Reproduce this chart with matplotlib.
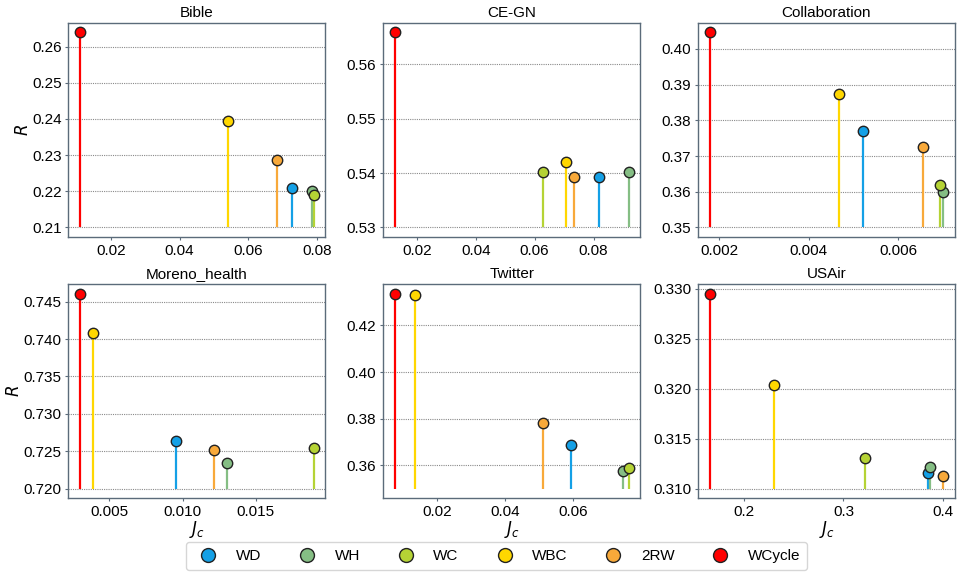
import matplotlib
matplotlib.use("Agg")
import matplotlib.pyplot as plt
from matplotlib.lines import Line2D

plt.rcParams['font.family'] = ['Liberation Sans', 'DejaVu Sans']

methods = ["WD", "WH", "WC", "WBC", "2RW", "WCycle"]
colors = ["#14A0E6", "#85BE84", "#B5D335", "#FFD700", "#F8A93A", "#FF0000"]

titles = ["Bible", "CE-GN", "Collaboration", "Moreno_health", "Twitter", "USAir"]
baselines = [0.21, 0.53, 0.35, 0.72, 0.35, 0.31]

# Jc values per network, order: WD, WH, WC, WBC, 2RW, WCycle
jc_bible = [0.0728, 0.0784, 0.0790, 0.0540, 0.0682, 0.0111]
jc_cegn = [0.0820, 0.0919, 0.0629, 0.0705, 0.0732, 0.0125]
jc_collab = [0.00522, 0.00700, 0.00693, 0.00468, 0.00655, 0.00179]
jc_moreno = [0.00955, 0.01300, 0.01895, 0.00390, 0.01215, 0.00300]
jc_twitter = [0.0594, 0.0746, 0.0762, 0.0135, 0.0510, 0.0075]
jc_usair = [0.3845, 0.3864, 0.3218, 0.2300, 0.4000, 0.1660]

# R values per network
r_bible = [0.2209, 0.2201, 0.2190, 0.2394, 0.2286, 0.2639]
r_cegn = [0.5393, 0.5402, 0.5403, 0.5421, 0.5392, 0.5659]
r_collab = [0.3771, 0.3599, 0.3619, 0.3873, 0.3724, 0.4046]
r_moreno = [0.7264, 0.7234, 0.7254, 0.7408, 0.7251, 0.7461]
r_twitter = [0.3689, 0.3574, 0.3590, 0.4332, 0.3780, 0.4337]
r_usair = [0.3116, 0.3122, 0.3131, 0.3204, 0.3113, 0.3295]

jc_all = [jc_bible, jc_cegn, jc_collab, jc_moreno, jc_twitter, jc_usair]
r_all = [r_bible, r_cegn, r_collab, r_moreno, r_twitter, r_usair]

yticks_all = [
    [0.21, 0.22, 0.23, 0.24, 0.25, 0.26],
    [0.53, 0.54, 0.55, 0.56],
    [0.35, 0.36, 0.37, 0.38, 0.39, 0.40],
    [0.720, 0.725, 0.730, 0.735, 0.740, 0.745],
    [0.36, 0.38, 0.40, 0.42],
    [0.310, 0.315, 0.320, 0.325, 0.330],
]
yfmt = ["%.2f", "%.2f", "%.2f", "%.3f", "%.2f", "%.3f"]
xticks_all = [
    [0.02, 0.04, 0.06, 0.08],
    [0.02, 0.04, 0.06, 0.08],
    [0.002, 0.004, 0.006],
    [0.005, 0.010, 0.015],
    [0.02, 0.04, 0.06],
    [0.2, 0.3, 0.4],
]
xfmt = ["%.2f", "%.2f", "%.3f", "%.3f", "%.2f", "%.1f"]

spine_col = "#5B6B7A"

fig, axes = plt.subplots(2, 3, figsize=(9.59, 5.76), dpi=100)
fig.subplots_adjust(left=0.0714, right=0.9958, top=0.9606, bottom=0.1349,
                    wspace=0.2247, hspace=0.217)

for k, ax in enumerate(axes.flat):
    base = baselines[k]
    for i, m in enumerate(methods):
        x = jc_all[k][i]
        y = r_all[k][i]
        ax.vlines(x, base, y, color=colors[i], linewidth=1.6, zorder=2)
        ax.plot([x], [y], 'o', markersize=7.5, markerfacecolor=colors[i],
                markeredgecolor='#222222', markeredgewidth=1.0, zorder=3)
    ax.set_title(titles[k], fontsize=11, pad=4)
    ax.set_yticks(yticks_all[k])
    ax.set_yticklabels([yfmt[k] % v for v in yticks_all[k]])
    ax.set_xticks(xticks_all[k])
    ax.set_xticklabels([xfmt[k] % v for v in xticks_all[k]])
    ax.tick_params(labelsize=11, length=2, color=spine_col, pad=3)
    ax.yaxis.grid(True, linestyle=(0, (1, 1)), color="#8a8a8a", linewidth=0.8)
    ax.set_axisbelow(True)
    for s in ax.spines.values():
        s.set_color(spine_col)
        s.set_linewidth(1.0)
    if k % 3 == 0:
        ax.set_ylabel("$R$", fontsize=12, labelpad=1)
    if k >= 3:
        ax.set_xlabel("$J_c$", fontsize=12, labelpad=0)

handles = [Line2D([], [], linestyle='none', marker='o', markersize=10,
                  markerfacecolor=c, markeredgecolor='#222222', markeredgewidth=1.0)
           for c in colors]
fig.legend(handles, methods, loc='center', bbox_to_anchor=(0.518, 0.0347),
           ncol=6, fontsize=11, frameon=True, fancybox=True, edgecolor='#cccccc',
           columnspacing=2.0, handletextpad=0.8, borderpad=0.45)

fig.savefig("out.png", dpi=100)
